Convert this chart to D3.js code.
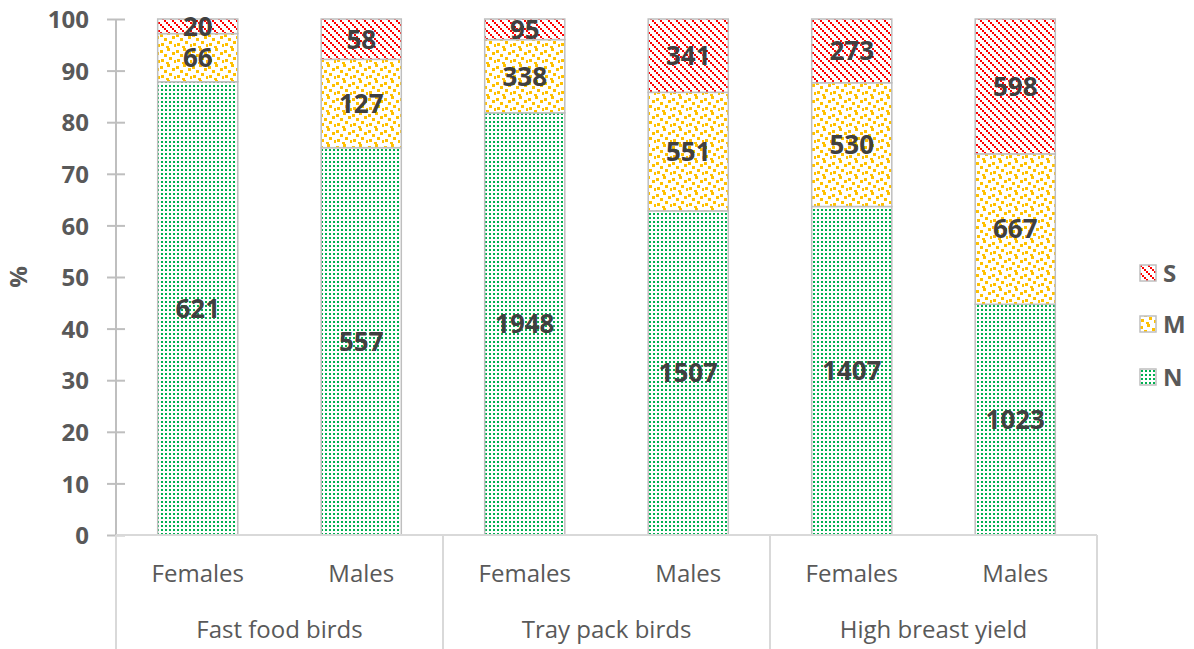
<!DOCTYPE html>
<html><head><meta charset="utf-8">
<script src="https://cdn.jsdelivr.net/npm/d3@7"></script>
<style>html,body{margin:0;padding:0;background:#fff;}svg{display:block;}pattern rect{shape-rendering:crispEdges;}</style>
</head><body><svg id="c" width="1194" height="649"></svg>
<script>
const groups = ["Fast food birds","Tray pack birds","High breast yield"];
const sexes = ["Females","Males"];
const seriesNames = ["N","M","S"];
const N = [621, 557, 1948, 1507, 1407, 1023];
const M = [66, 127, 338, 551, 530, 667];
const S = [20, 58, 95, 341, 273, 598];
const yTicks = [0,10,20,30,40,50,60,70,80,90,100];

const svg = d3.select("#c");
const defs = svg.append("defs");
// N: green dots
const pN = defs.append("pattern").attr("id","pN").attr("patternUnits","userSpaceOnUse").attr("width",4).attr("height",4);
pN.append("rect").attr("width",4).attr("height",4).attr("fill","#fff");
pN.append("rect").attr("x",1).attr("y",1).attr("width",2).attr("height",2).attr("fill","#00b050");
// M: yellow confetti
const pM = defs.append("pattern").attr("id","pM").attr("patternUnits","userSpaceOnUse").attr("width",16).attr("height",16);
pM.append("rect").attr("width",16).attr("height",16).attr("fill","#fff");
[[0,2],[7,0],[12,4],[4,6],[9,9],[1,11],[14,12],[6,14]].forEach(p=>{
  pM.append("rect").attr("x",p[0]).attr("y",p[1]).attr("width",3).attr("height",3).attr("fill","#ffc000");
});
// S: red dashed downward diagonal
const pS = defs.append("pattern").attr("id","pS").attr("patternUnits","userSpaceOnUse").attr("width",8).attr("height",8);
pS.append("rect").attr("width",8).attr("height",8).attr("fill","#fff");
[[0,0],[2,2],[4,4],[6,6]].forEach(p=>{
  pS.append("rect").attr("x",p[0]).attr("y",p[1]).attr("width",2).attr("height",2).attr("fill","#ff0000");
});
const fills = {N:"url(#pN)", M:"url(#pM)", S:"url(#pS)"};

const x0 = 116, x1 = 1097, yTop = 19, yBot = 535;
const idx = d3.range(N.length);
const x = d3.scaleBand().domain(idx).range([x0,x1]).paddingInner(0.51).paddingOuter(0.255);
const y = d3.scaleLinear().domain([0,100]).range([yBot,yTop]);

const rows = idx.map(i => ({i, N:N[i], M:M[i], S:S[i]}));
rows.forEach(r => { const t = r.N + r.M + r.S; r.pN = r.N/t*100; r.pM = r.M/t*100; r.pS = r.S/t*100; });
const stack = d3.stack().keys(["pN","pM","pS"])(rows);

const gray = "#595959";
// bars
stack.forEach((layer, k) => {
  const key = seriesNames[k];
  svg.append("g").selectAll("rect").data(layer).join("rect")
    .attr("x", d => x(d.data.i)).attr("width", x.bandwidth())
    .attr("y", d => y(d[1])).attr("height", d => y(d[0]) - y(d[1]))
    .attr("fill", fills[key]).attr("stroke","#bfbfbf").attr("stroke-width",1.5);
});
// labels
stack.forEach((layer, k) => {
  const key = seriesNames[k];
  svg.append("g").selectAll("text").data(layer).join("text")
    .attr("x", d => x(d.data.i) + x.bandwidth()/2)
    .attr("y", d => (y(d[0]) + y(d[1]))/2)
    .attr("dy","0.36em").attr("text-anchor","middle")
    .attr("font-family","'Open Sans', sans-serif").attr("font-weight","bold").attr("font-size",26)
    .attr("fill","#404040").text(d => d.data[key]);
});

// y axis
const yAxis = d3.axisLeft(y).tickValues(yTicks).tickSize(0).tickPadding(0);
const ga = svg.append("g").attr("transform",`translate(${x0},0)`).call(yAxis);
ga.select(".domain").remove();
ga.selectAll(".tick text").attr("x",-27).attr("dy","0.36em")
  .attr("font-family","'Open Sans', sans-serif").attr("font-weight","bold").attr("font-size",24).attr("fill",gray);
ga.selectAll(".tick").append("line").attr("x1",-9).attr("x2",9).attr("stroke","#bfbfbf").attr("stroke-width",2);
svg.append("line").attr("x1",x0).attr("x2",x0).attr("y1",yTop).attr("y2",yBot).attr("stroke","#bfbfbf").attr("stroke-width",2);

// x axis line
svg.append("line").attr("x1",x0).attr("x2",x1).attr("y1",yBot).attr("y2",yBot).attr("stroke","#d9d9d9").attr("stroke-width",2);
// group separators
const gScale = d3.scaleBand().domain(groups).range([x0,x1]);
[x0, ...groups.map(g => gScale(g) + gScale.bandwidth())].forEach(xx => {
  svg.append("line").attr("x1",xx).attr("x2",xx).attr("y1",yBot).attr("y2",649).attr("stroke","#d9d9d9").attr("stroke-width",2);
});
// category labels
svg.append("g").selectAll("text").data(idx).join("text")
  .attr("x", i => x(i) + x.bandwidth()/2).attr("y",582).attr("text-anchor","middle")
  .attr("font-family","'Open Sans', sans-serif").attr("font-size",24).attr("fill",gray)
  .text(i => sexes[i % 2]);
svg.append("g").selectAll("text").data(groups).join("text")
  .attr("x", g => gScale(g) + gScale.bandwidth()/2).attr("y",638).attr("text-anchor","middle")
  .attr("font-family","'Open Sans', sans-serif").attr("font-size",24).attr("fill",gray)
  .text(g => g);

// y title
svg.append("text").attr("transform","translate(27,277) rotate(-90)").attr("text-anchor","middle")
  .attr("font-family","'Open Sans', sans-serif").attr("font-weight","bold").attr("font-size",24).attr("fill",gray).text("%");

// legend
const legendY = {S:273, M:324, N:377};
["S","M","N"].forEach(k => {
  const g = svg.append("g").attr("transform",`translate(1140,${legendY[k]})`);
  g.append("rect").attr("x",0).attr("y",-8).attr("width",16).attr("height",16)
    .attr("fill",fills[k]).attr("stroke","#bfbfbf").attr("stroke-width",1.5);
  g.append("text").attr("x",23).attr("y",0).attr("dy","0.36em")
    .attr("font-family","'Open Sans', sans-serif").attr("font-weight","bold").attr("font-size",24).attr("fill",gray).text(k);
});
</script></body></html>
